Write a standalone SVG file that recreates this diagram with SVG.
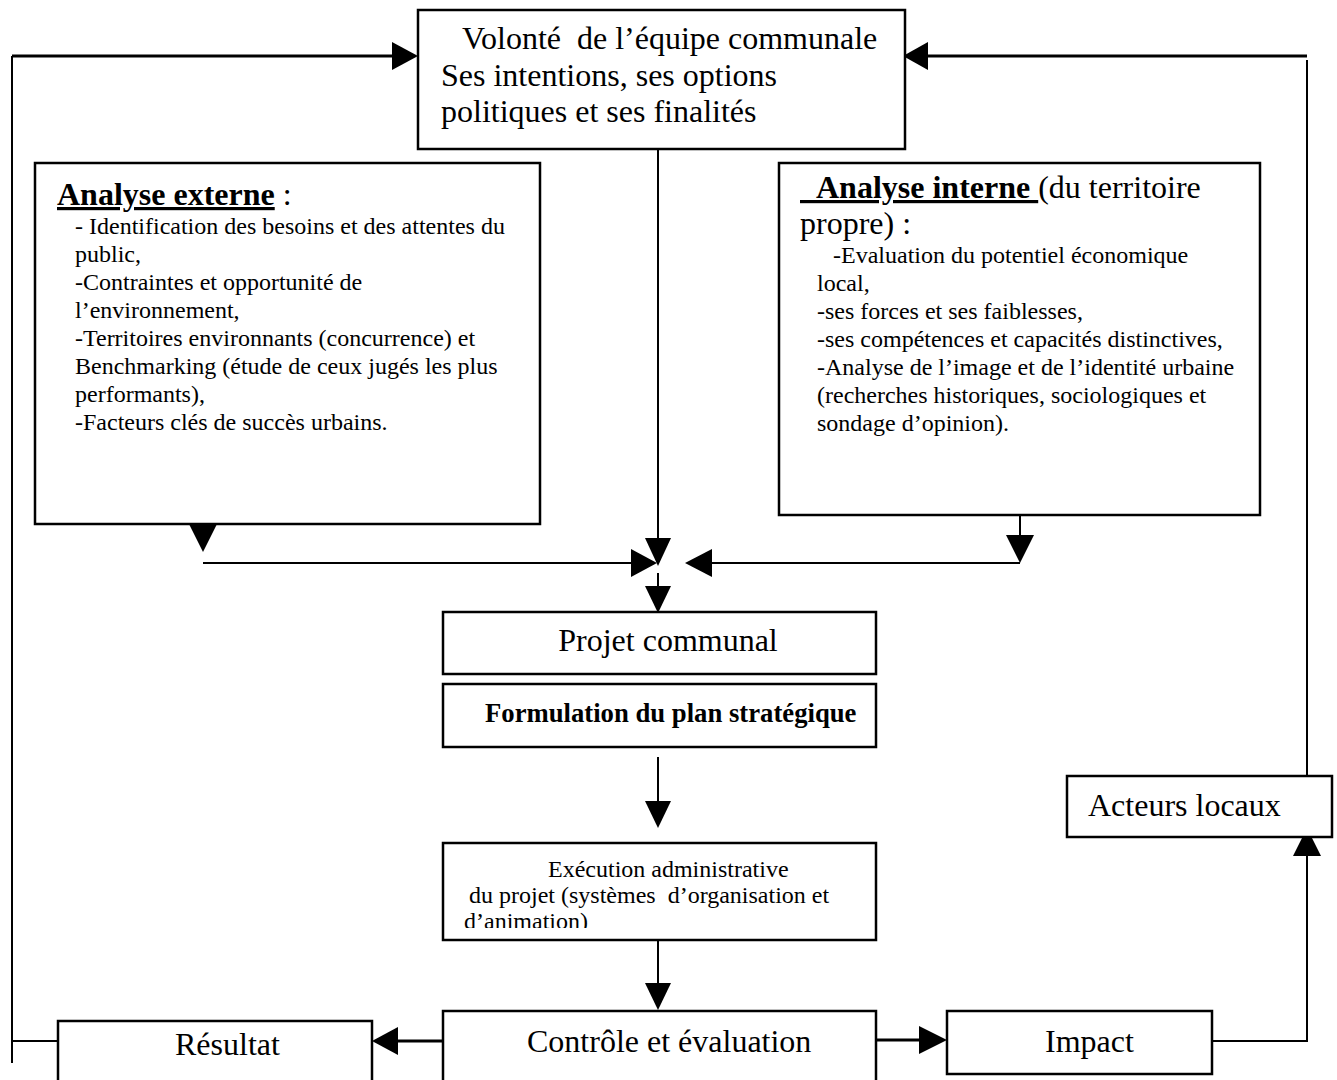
<svg xmlns="http://www.w3.org/2000/svg" width="1337" height="1080" viewBox="0 0 1337 1080">
<style>
text{font-family:"Liberation Serif","Times New Roman",serif;fill:#000}
.box{fill:#fff;stroke:#000;stroke-width:2.5}
.ln{stroke:#000;stroke-width:2;fill:none}
.thk{stroke:#000;stroke-width:3;fill:none}
.ah{fill:#000}
.big{font-size:32px}
.body{font-size:24px}
.b{font-weight:bold}
.u{text-decoration:underline}
</style>
<defs>
<clipPath id="clipExec"><rect x="445" y="845" width="429" height="83"/></clipPath>
</defs>
<rect width="1337" height="1080" fill="#fff"/>

<g id="connectors">
<polyline class="ln" points="58,1041 12,1041 12,56"/>
<line class="ln" x1="12" y1="1041" x2="12" y2="1063"/>
<line class="thk" x1="12" y1="56" x2="393" y2="56"/>
<polygon class="ah" points="392,42 418,56 392,70"/>
<line class="thk" x1="926" y1="56" x2="1307" y2="56"/>
<polygon class="ah" points="928,42 903,56 928,70"/>
<line class="ln" x1="1307" y1="60" x2="1307" y2="780"/>
<line class="ln" x1="658" y1="149" x2="658" y2="540"/>
<polygon class="ah" points="645,538 671,538 658,566"/>
<line class="ln" x1="203" y1="515" x2="203" y2="530"/>
<polygon class="ah" points="189,524 217,524 203,552"/>
<line class="ln" x1="203" y1="563" x2="632" y2="563"/>
<polygon class="ah" points="631,549 657,563 631,577"/>
<line class="ln" x1="1020" y1="515" x2="1020" y2="537"/>
<polygon class="ah" points="1006,535 1034,535 1020,563"/>
<line class="ln" x1="711" y1="563" x2="1020" y2="563"/>
<polygon class="ah" points="712,549 685,563 712,577"/>
<line class="ln" x1="658" y1="573" x2="658" y2="588"/>
<polygon class="ah" points="645,586 671,586 658,613"/>
<line class="ln" x1="658" y1="757" x2="658" y2="803"/>
<polygon class="ah" points="645,801 671,801 658,828"/>
<line class="ln" x1="658" y1="940" x2="658" y2="985"/>
<polygon class="ah" points="645,983 671,983 658,1010"/>
<line class="thk" x1="443" y1="1041" x2="396" y2="1041"/>
<polygon class="ah" points="398,1027 372,1041 398,1055"/>
<line class="thk" x1="876" y1="1040" x2="921" y2="1040"/>
<polygon class="ah" points="919,1026 947,1040 919,1054"/>
<polyline class="ln" points="1212,1041 1307,1041 1307,854"/>
<polygon class="ah" points="1293,856 1321,856 1307,828"/>
</g>

<g id="node-volonte">
<rect class="box" x="418" y="10" width="487" height="139"/>
<text class="big" x="462" y="49">Volonté&#160; de l’équipe communale</text>
<text class="big" x="441" y="86">Ses intentions, ses options</text>
<text class="big" x="441" y="122">politiques et ses finalités</text>
</g>

<g id="node-externe">
<rect class="box" x="35" y="163" width="505" height="361"/>
<text class="big" x="57" y="205"><tspan class="b u">Analyse externe</tspan> :</text>
<text class="body" x="75" y="234">- Identification des besoins et des attentes du</text>
<text class="body" x="75" y="262">public,</text>
<text class="body" x="75" y="290">-Contraintes et opportunité de</text>
<text class="body" x="75" y="318">l’environnement,</text>
<text class="body" x="75" y="346">-Territoires environnants (concurrence) et</text>
<text class="body" x="75" y="374">Benchmarking (étude de ceux jugés les plus</text>
<text class="body" x="75" y="402">performants),</text>
<text class="body" x="75" y="430">-Facteurs clés de succès urbains.</text>
</g>

<g id="node-interne">
<rect class="box" x="779" y="163" width="481" height="352"/>
<text class="big" x="800" y="198"><tspan class="b u">&#160;&#160;Analyse interne&#160;</tspan>(du territoire</text>
<text class="big" x="800" y="234">propre) :</text>
<text class="body" x="833" y="263">-Evaluation du potentiel économique</text>
<text class="body" x="817" y="291">local,</text>
<text class="body" x="817" y="319">-ses forces et ses faiblesses,</text>
<text class="body" x="817" y="347">-ses compétences et capacités distinctives,</text>
<text class="body" x="817" y="375">-Analyse de l’image et de l’identité urbaine</text>
<text class="body" x="817" y="403">(recherches historiques, sociologiques et</text>
<text class="body" x="817" y="431">sondage d’opinion).</text>
</g>

<g id="node-projet">
<rect class="box" x="443" y="612" width="433" height="62"/>
<text class="big" x="668" y="651" text-anchor="middle">Projet communal</text>
</g>

<g id="node-formulation">
<rect class="box" x="443" y="684" width="433" height="63"/>
<text class="b" font-size="26.7px" x="485" y="722">Formulation du plan stratégique</text>
</g>

<g id="node-execution">
<rect class="box" x="443" y="843" width="433" height="97"/>
<g clip-path="url(#clipExec)">
<text class="body" x="548" y="877">Exécution administrative</text>
<text class="body" x="469" y="903" xml:space="preserve">du projet (systèmes  d’organisation et</text>
<text class="body" x="464" y="929">d’animation)</text>
</g>
</g>

<g id="node-controle">
<rect class="box" x="443" y="1011" width="433" height="80"/>
<text class="big" x="527" y="1052">Contrôle et évaluation</text>
</g>

<g id="node-resultat">
<rect class="box" x="58" y="1021" width="314" height="70"/>
<text class="big" x="175" y="1055">Résultat</text>
</g>

<g id="node-impact">
<rect class="box" x="947" y="1011" width="265" height="63"/>
<text class="big" x="1045" y="1052">Impact</text>
</g>

<g id="node-acteurs">
<rect class="box" x="1067" y="776" width="265" height="61"/>
<text class="big" x="1088" y="816">Acteurs locaux</text>
</g>
</svg>
